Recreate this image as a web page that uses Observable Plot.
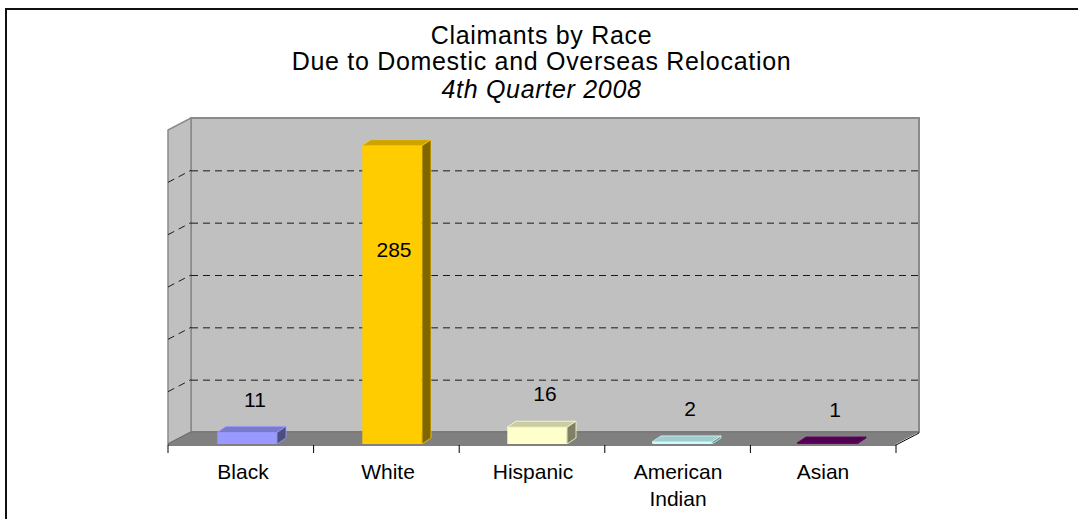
<!DOCTYPE html>
<html><head><meta charset="utf-8">
<script src="https://cdn.jsdelivr.net/npm/d3@7"></script>
<script src="https://cdn.jsdelivr.net/npm/@observablehq/plot@0.6"></script>
<style>
body{margin:0;background:#fff;overflow:hidden;font-family:"Liberation Sans",Arial,sans-serif;}
#frame{position:absolute;left:5px;top:8px;width:3000px;height:3000px;border-left:2px solid #111;border-top:2px solid #111;z-index:10;pointer-events:none;}
#header{position:relative;height:110px;}
.t{position:absolute;left:5px;right:0;text-align:center;font-size:25px;line-height:25px;color:#000;letter-spacing:0.7px;white-space:nowrap;}
#chart{position:relative;height:409px;}
</style></head><body>
<div id="frame"></div>
<div id="header">
  <div class="t" style="top:23px">Claimants by Race</div>
  <div class="t" style="top:49px">Due to Domestic and Overseas Relocation</div>
  <div class="t" style="top:77px;font-style:italic">4th Quarter 2008</div>
</div>
<div id="chart"></div>
<script>
// ---- data ----
const categories = ["Black", "White", "Hispanic", "American Indian", "Asian"];
const claimants = [11, 285, 16, 2, 1];
const barColors = ["#9999ff", "#ffcc00", "#ffffcc", "#ccffff", "#660066"];
const tickLabels = ["Black", "White", "Hispanic", "American\nIndian", "Asian"];
const gridValues = [50, 100, 150, 200, 250];
const axisMax = 300;

const rows = categories.map((c, i) => ({race: c, count: claimants[i], color: barColors[i], label: tickLabels[i]}));

// ---- 3D look constants ----
const W = 1078, H = 409, ML = 168, MR = 182, MT = 20, MB = 75;
const DX = 23, DY = -12;      // wall depth
const BDX = 9, BDY = -6;      // bar depth
const BW = 60, BSHIFT = 4.5;  // bar front width and shift from band centre
const step = (W - ML - MR) / categories.length;
const insetL = step / 2 + BSHIFT - BW / 2;
const insetR = step - insetL - BW;

function shade(c, k) {
  const r = d3.rgb(c);
  return d3.rgb(r.r * k, r.g * k, r.b * k).formatHex();
}

function walls(index, scales, values, dim) {
  const {y} = scales;
  const L = dim.marginLeft, R = dim.width - dim.marginRight;
  const y0 = y(0), yT = y(axisMax);
  const g = d3.create("svg:g");
  g.append("path").attr("d", `M${L},${y0}L${L + DX},${y0 + DY}L${R + DX},${y0 + DY}L${R},${y0}Z`).attr("fill", "#808080");
  g.append("rect").attr("x", L + DX).attr("y", yT + DY).attr("width", R - L).attr("height", y0 - yT)
    .attr("fill", "#c0c0c0").attr("stroke", "#8a8a8a").attr("stroke-width", 2);
  g.append("path").attr("d", `M${L},${y0}L${L},${yT}L${L + DX},${yT + DY}L${L + DX},${y0 + DY}Z`)
    .attr("fill", "#c0c0c0").attr("stroke", "#8a8a8a").attr("stroke-width", 1.5);
  g.append("path").attr("d", `M${L},${y0}L${L + DX},${y0 + DY}L${R + DX},${y0 + DY}`).attr("fill", "none").attr("stroke", "#6a6a6a");
  for (const v of gridValues) {
    g.append("path").attr("d", `M${L},${y(v)}L${L + DX},${y(v) + DY}`)
      .attr("stroke", "#1a1a1a").attr("stroke-dasharray", "7,5").attr("fill", "none");
  }
  return g.node();
}

function axisLine(index, scales, values, dim) {
  const {y} = scales;
  const L = dim.marginLeft, R = dim.width - dim.marginRight;
  const y0 = y(0) + 1;
  const g = d3.create("svg:g").attr("stroke", "#000").attr("fill", "none");
  g.append("path").attr("d", `M${L},${y0}L${R},${y0}L${R + DX},${y0 + DY}`);
  for (let i = 0; i <= categories.length; i++) {
    const x = L + i * step;
    g.append("path").attr("d", `M${x},${y0}L${x},${y0 + 8}`);
  }
  return g.node();
}

function barFaces(index, scales, values, dim) {
  const {x, y} = scales;
  const bw = typeof x.bandwidth === "function" ? x.bandwidth() : step;
  const g = d3.create("svg:g");
  rows.forEach(d => {
    const x0 = x(d.race) + bw / 2 + BSHIFT - BW / 2, x1 = x0 + BW;
    const yt = y(d.count), y0 = y(0);
    g.append("path").attr("d", `M${x0},${yt}L${x0 + BDX},${yt + BDY}L${x1 + BDX},${yt + BDY}L${x1},${yt}Z`)
      .attr("fill", shade(d.color, 0.8)).attr("stroke", d.color).attr("stroke-width", 0.8);
    g.append("path").attr("d", `M${x1},${yt}L${x1 + BDX},${yt + BDY}L${x1 + BDX},${y0 + BDY}L${x1},${y0}Z`)
      .attr("fill", shade(d.color, 0.5)).attr("stroke", d.color).attr("stroke-width", 0.8);
  });
  return g.node();
}

const chart = Plot.plot({
  width: W, height: H,
  marginLeft: ML, marginRight: MR, marginTop: MT, marginBottom: MB,
  style: {fontFamily: "'Liberation Sans', Arial, sans-serif", fontSize: "21px", background: "transparent", color: "#000"},
  x: {domain: categories, padding: 0, axis: null},
  y: {domain: [0, axisMax], axis: null},
  color: {type: "identity"},
  marks: [
    walls,
    Plot.ruleY(gridValues, {dx: DX, dy: DY, stroke: "#1a1a1a", strokeOpacity: 1, strokeDasharray: "7,5"}),
    Plot.barY(rows, {x: "race", y: "count", fill: "color", insetLeft: insetL, insetRight: insetR}),
    barFaces,
    axisLine,
    Plot.text(rows, {filter: d => d.count <= 200, x: "race", y: "count", text: d => String(d.count), dx: 12, dy: -33, fill: "#000", fontSize: 21}),
    Plot.text(rows, {filter: d => d.count > 200, x: "race", y: d => d.count * 0.65, text: d => String(d.count), dx: 6, fill: "#000", fontSize: 21}),
    Plot.text(rows, {x: "race", y: 0, text: "label", dy: 15, lineAnchor: "top", lineHeight: 1.3, fill: "#000", fontSize: 21})
  ]
});
document.getElementById("chart").appendChild(chart);
</script>
</body></html>
